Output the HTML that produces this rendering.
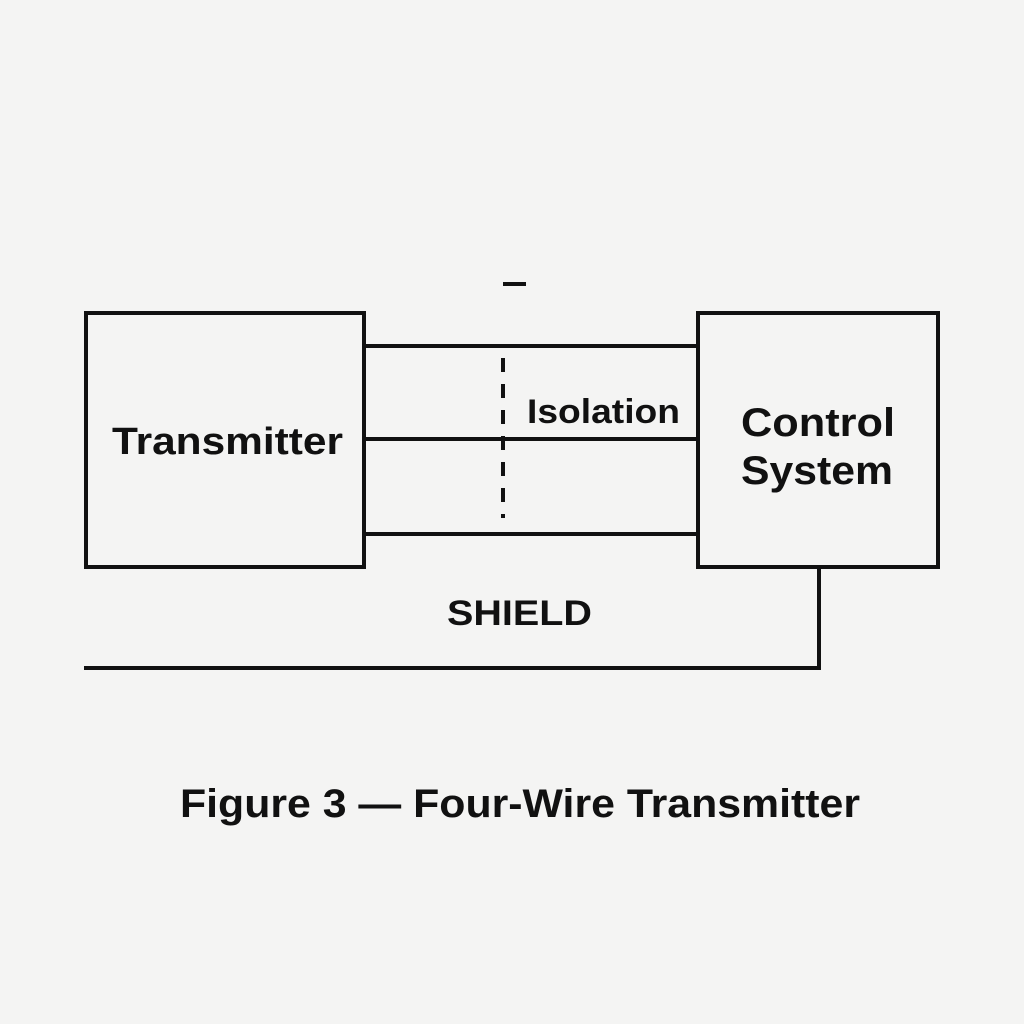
<!DOCTYPE html>
<html><head><meta charset="utf-8"><style>
html,body{margin:0;padding:0;background:#f4f4f3;}
svg{display:block;}
text{font-family:"Liberation Sans",sans-serif;fill:#111;font-weight:bold;}
</style></head><body>
<svg width="1024" height="1024" viewBox="0 0 1024 1024">
<rect width="1024" height="1024" fill="#f4f4f3"/>
<g stroke="#111" stroke-width="4" fill="none">
<rect x="86" y="313" width="278" height="254"/>
<rect x="698" y="313" width="240" height="254"/>
<line x1="364" y1="346" x2="698" y2="346"/>
<line x1="364" y1="439" x2="698" y2="439"/>
<line x1="364" y1="534" x2="698" y2="534"/>
<line x1="503" y1="358" x2="503" y2="518" stroke-dasharray="14,12"/>
<polyline points="819,567 819,668 84,668"/>
<line x1="503" y1="284" x2="526" y2="284"/>
</g>
<text x="112" y="454" font-size="38" textLength="231" lengthAdjust="spacingAndGlyphs">Transmitter</text>
<text x="527" y="423" font-size="34" textLength="153" lengthAdjust="spacingAndGlyphs">Isolation</text>
<text x="741" y="436" font-size="40" textLength="154" lengthAdjust="spacingAndGlyphs">Control</text>
<text x="741" y="484" font-size="40" textLength="152" lengthAdjust="spacingAndGlyphs">System</text>
<text x="447" y="625" font-size="35" textLength="145" lengthAdjust="spacingAndGlyphs">SHIELD</text>
<text x="180" y="817" font-size="40" textLength="680" lengthAdjust="spacingAndGlyphs">Figure 3 — Four-Wire Transmitter</text>
</svg>
</body></html>
